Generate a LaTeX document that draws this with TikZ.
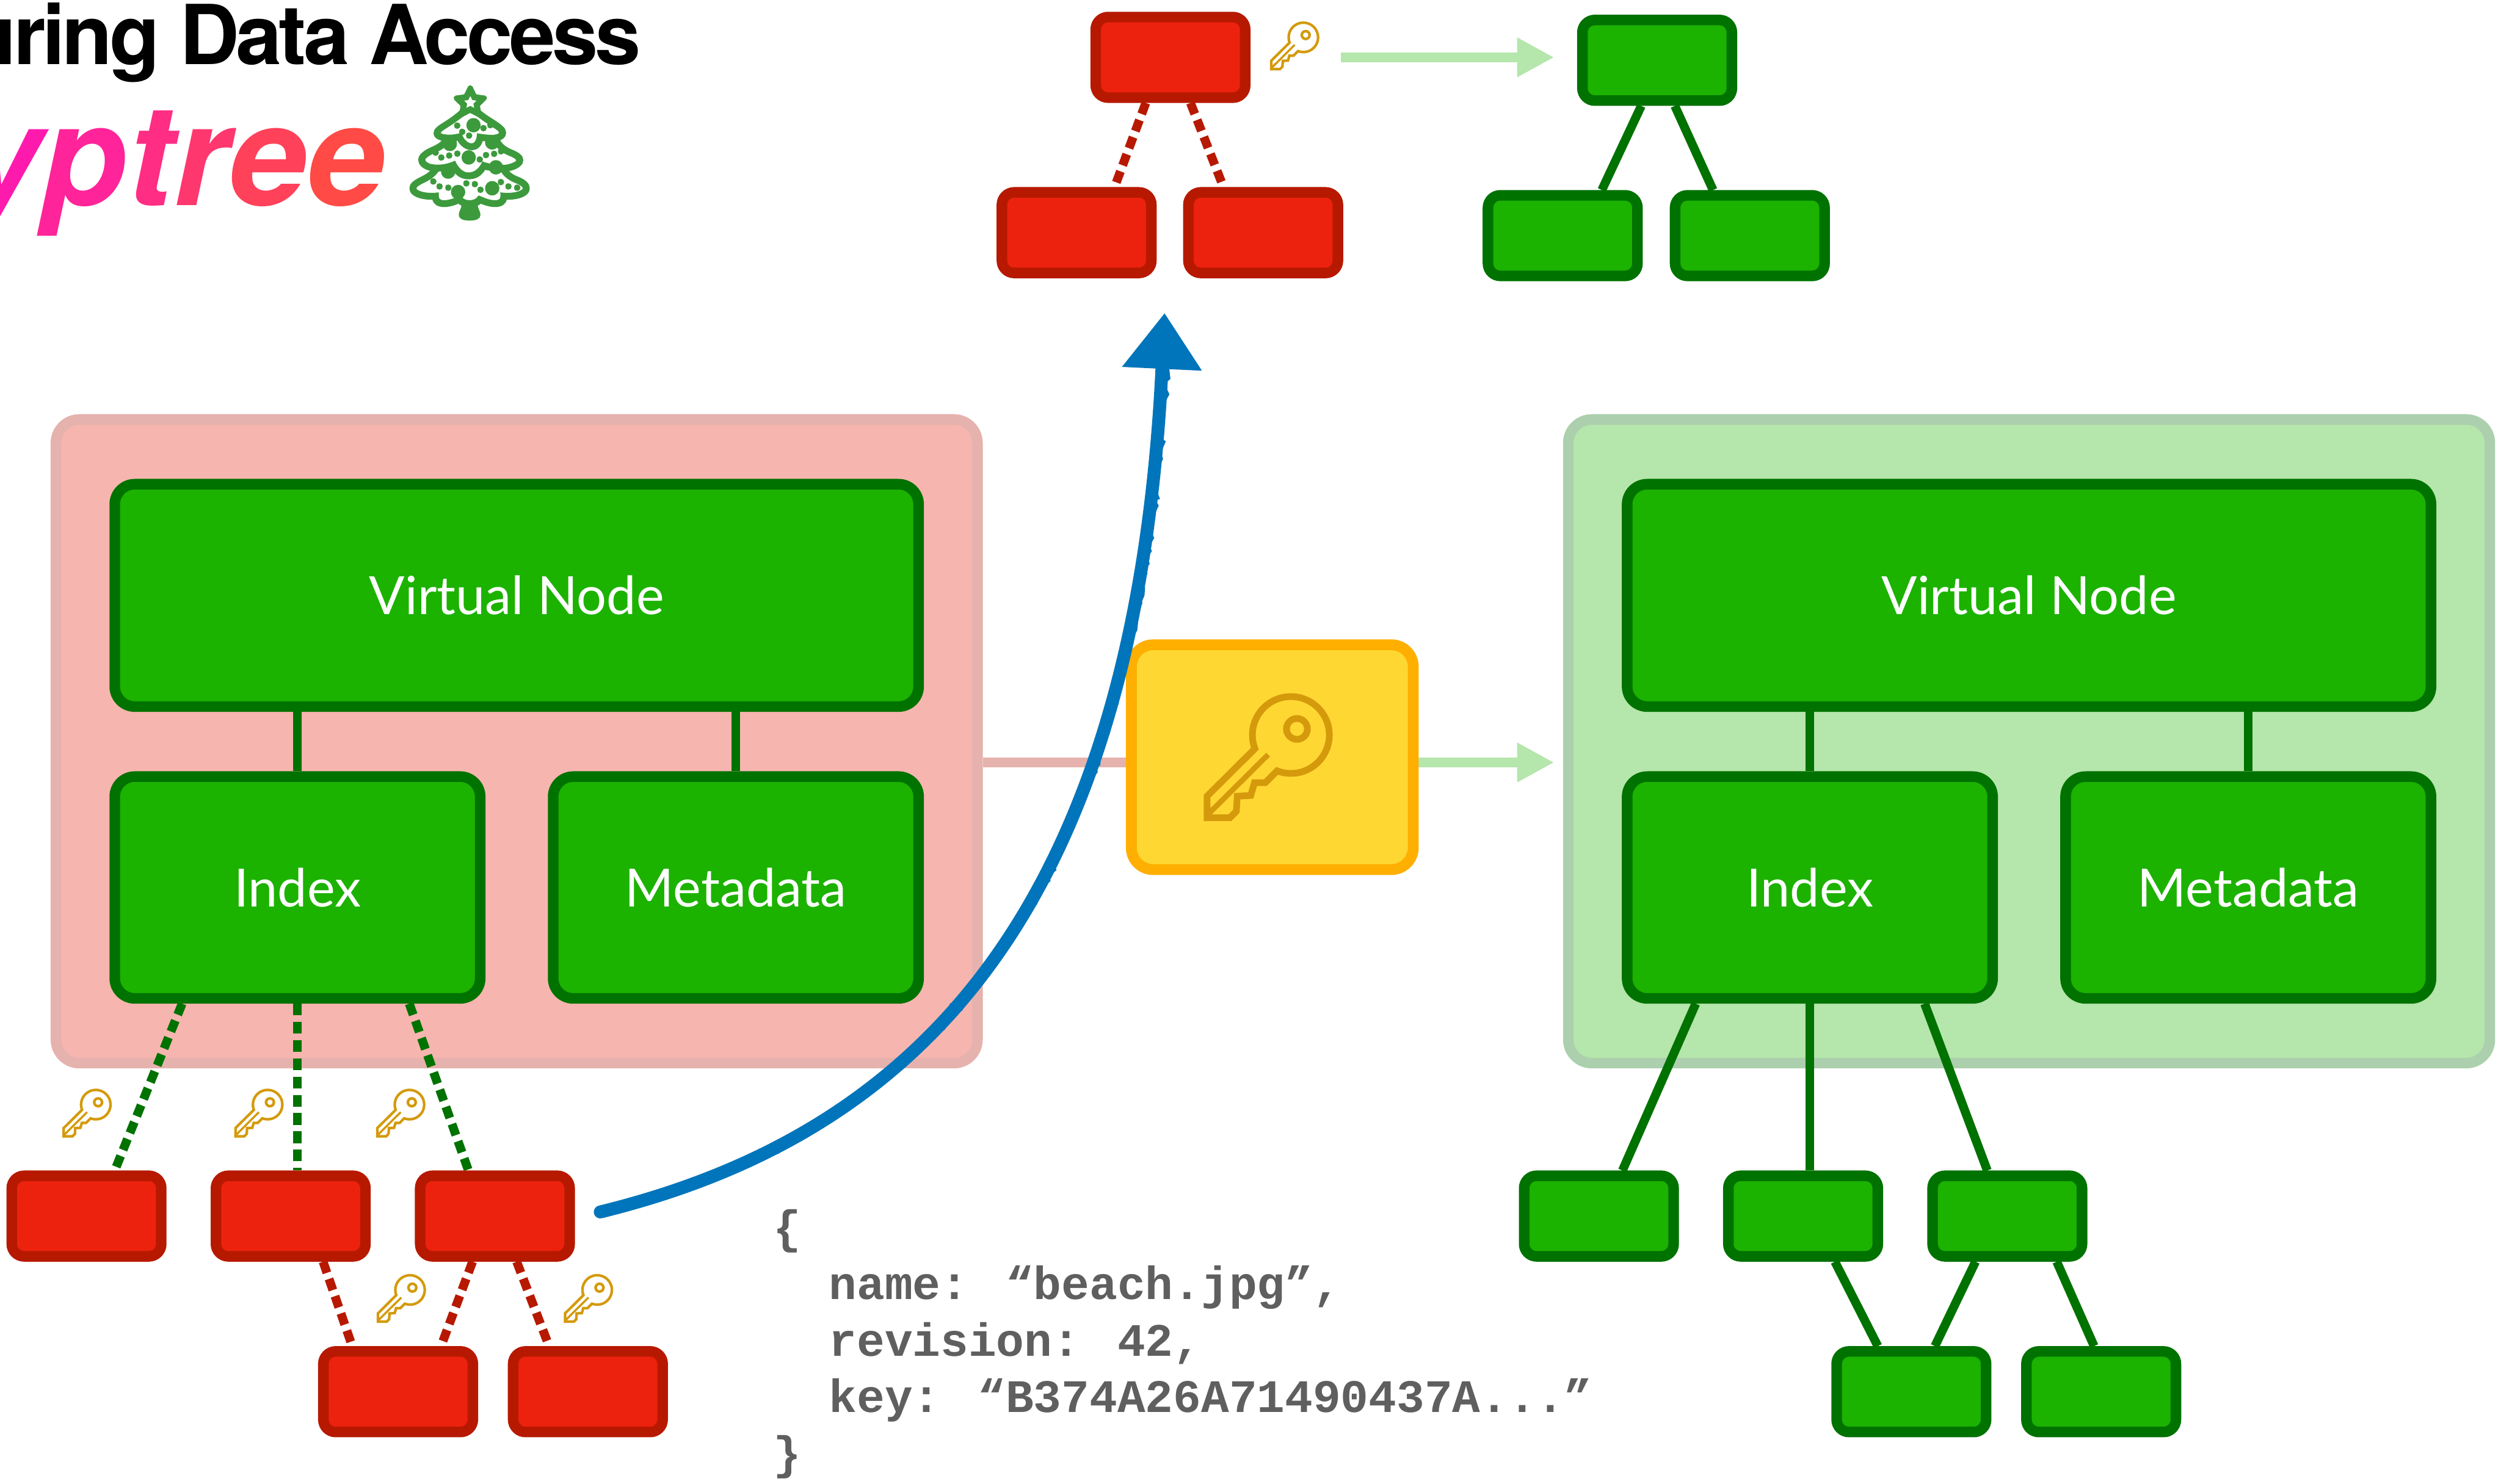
\documentclass[tikz,border=0pt]{standalone}
\usepackage{fontspec}
\setmainfont{Lato}
\newfontfamily\headfont[LetterSpace=-4]{TeX Gyre Heros}
\newfontfamily\codefont{Liberation Mono}
\newfontfamily\emojifont[FakeBold=1.5]{Noto Emoji}
\usetikzlibrary{positioning,arrows.meta,calc,decorations.pathmorphing}

\definecolor{boxred}{HTML}{EC220F}
\definecolor{boxredline}{HTML}{B71900}
\definecolor{boxgreen}{HTML}{1CB200}
\definecolor{boxgreenline}{HTML}{007200}
\definecolor{holderredfill}{HTML}{F7B5AF}
\definecolor{holderredline}{HTML}{E6B2AD}
\definecolor{holdergreenfill}{HTML}{B5E6AB}
\definecolor{holdergreenline}{HTML}{ACD0AD}
\definecolor{tilefill}{HTML}{FFD733}
\definecolor{tileline}{HTML}{FFAF00}
\definecolor{gold}{HTML}{D49A0C}
\definecolor{pencil}{HTML}{0075BB}
\definecolor{codegray}{HTML}{5F5F5F}
\definecolor{treegreen}{HTML}{3C9A3C}
\definecolor{hotpink}{HTML}{FF1AAE}
\definecolor{coral}{HTML}{FF4A45}

\newcommand{\brandletter}[2]{\textcolor{coral!#1!hotpink}{#2}}

\pgfdeclarelayer{holders}
\pgfdeclarelayer{links}
\pgfsetlayers{holders,links,main}

\tikzset{
  holder/.style={rounded corners=4mm,line width=1.8mm,minimum width=15.66cm,minimum height=10.94cm},
  redholder/.style={holder,draw=holderredline,fill=holderredfill},
  greenholder/.style={holder,draw=holdergreenline,fill=holdergreenfill},
  block/.style={draw=boxgreenline,fill=boxgreen,line width=1.8mm,rounded corners=3.4mm,
    text=white,font=\fontsize{25.5}{29}\selectfont,inner sep=0pt},
  vnode/.style={block,minimum width=13.66cm,minimum height=3.78cm},
  halfnode/.style={block,minimum width=6.21cm,minimum height=3.77cm},
  leaf/.style={line width=1.8mm,rounded corners=2.1mm,minimum width=2.54cm,minimum height=1.37cm,inner sep=0pt},
  redleaf/.style={leaf,draw=boxredline,fill=boxred},
  greenleaf/.style={leaf,draw=boxgreenline,fill=boxgreen},
  keytile/.style={draw=tileline,fill=tilefill,line width=1.85mm,rounded corners=3.7mm,
    minimum width=4.79cm,minimum height=3.82cm},
  tie/.style={draw=boxgreenline,line width=1.5mm},
  greendash/.style={tie,dash pattern=on 2mm off 1.1mm},
  reddash/.style={greendash,draw=boxredline},
  keyglyph/.style={text=gold,font=\emojifont\fontsize{23}{23}\selectfont,inner sep=0pt},
  softarrow/.style={draw=holdergreenfill,line width=1.6mm,-{Triangle[length=6.3mm,width=6.3mm]}},
  pencilarrow/.style={draw=pencil,line width=2.2mm,line cap=round,-{Triangle[length=9.5mm,width=13mm]}},
  code/.style={text=codegray,font=\codefont\bfseries\fontsize{22.5}{27.3}\selectfont,align=left,inner sep=0pt}
}

\begin{document}
\begin{tikzpicture}
  \useasboundingbox (0,0) rectangle (42.5,25.22);

  % heading
  \node[anchor=base east,inner sep=0pt,font=\headfont\bfseries\fontsize{40}{40}\selectfont] (title) at (10.90,24.12) {uring Data Access};
  \node[anchor=base east,inner sep=0pt,font=\headfont\bfseries\itshape\fontsize{68}{68}\selectfont] (brand) at (6.55,21.73)
    {\brandletter{0}{y}\brandletter{20}{p}\brandletter{40}{t}\brandletter{60}{r}\brandletter{80}{e}\brandletter{100}{e}};
  \node[text=treegreen,inner sep=0pt,font=\emojifont\fontsize{62}{62}\selectfont] (tree) at (7.98,22.62) {🎄};

  % the two folders
  \begin{pgfonlayer}{holders}
    \node[redholder] (cntL) at (8.78,12.62) {};
    \node[greenholder] (cntR) at (34.48,12.62) {};
  \end{pgfonlayer}

  \node[vnode,below=1.1cm of cntL.north] (vnL) {Virtual Node};
  \node[halfnode,below=1.01cm of vnL.south west,anchor=north west] (idxL) {Index};
  \node[halfnode,below=1.01cm of vnL.south east,anchor=north east] (metaL) {Metadata};

  \node[vnode,below=1.1cm of cntR.north] (vnR) {Virtual Node};
  \node[halfnode,below=1.01cm of vnR.south west,anchor=north west] (idxR) {Index};
  \node[halfnode,below=1.01cm of vnR.south east,anchor=north east] (metaR) {Metadata};

  \node[keytile] (vault) at (21.62,12.35) {};
  \node[keyglyph,font=\emojifont\fontsize{60}{60}\selectfont] (bigkey) at ([xshift=-0.07cm]vault.center) {🔑};

  % encrypted children
  \node[redleaf] (r1) at (1.47,4.55) {};
  \node[redleaf,right=0.75cm of r1] (r2) {};
  \node[redleaf,right=0.75cm of r2] (r3) {};
  \node[redleaf,below=1.435cm of r2,xshift=1.825cm] (r4) {};
  \node[redleaf,right=0.505cm of r4] (r5) {};

  % decrypted children
  \node[greenleaf] (g1) at (27.17,4.55) {};
  \node[greenleaf,right=0.75cm of g1] (g2) {};
  \node[greenleaf,right=0.75cm of g2] (g3) {};
  \node[greenleaf,below=1.435cm of g2,xshift=1.84cm] (g4) {};
  \node[greenleaf,right=0.505cm of g4] (g5) {};

  % small trees at the top
  \node[redleaf] (rt) at (19.89,24.245) {};
  \node[redleaf,below=1.43cm of rt,xshift=-1.595cm] (rb1) {};
  \node[redleaf,right=0.45cm of rb1] (rb2) {};
  \node[greenleaf] (gt) at (28.16,24.195) {};
  \node[greenleaf,below=1.43cm of gt,xshift=-1.605cm] (gb1) {};
  \node[greenleaf,right=0.46cm of gb1] (gb2) {};

  \node[keyglyph] (k0) at (22.00,24.44) {🔑};
  \foreach \name/\x/\y in {k1/1.48/6.30,k2/4.40/6.30,k3/6.81/6.30,k4/6.82/3.15,k5/10.00/3.15}
    \node[keyglyph] (\name) at (\x,\y) {🔑};

  \node[code,anchor=north west] (meta) at (13.13,4.67)
    {\{\\\ \ name: “beach.jpg”,\\\ \ revision: 42,\\\ \ key: “B374A26A71490437A...”\\\}};

  \begin{pgfonlayer}{links}
    \draw[tie] (idxL.north) -- (idxL.north |- vnL.south);
    \draw[tie] (metaL.north) -- (metaL.north |- vnL.south);
    \draw[tie] (idxR.north) -- (idxR.north |- vnR.south);
    \draw[tie] (metaR.north) -- (metaR.north |- vnR.south);

    \draw[greendash] ([xshift=-1.96cm]idxL.south) -- ([xshift=0.48cm]r1.north);
    \draw[greendash] (idxL.south) -- (idxL.south |- r2.north);
    \draw[greendash] ([xshift=1.90cm]idxL.south) -- ([xshift=-0.45cm]r3.north);
    \draw[reddash] ([xshift=0.55cm]r2.south) -- ([xshift=-0.78cm]r4.north);
    \draw[reddash] ([xshift=-0.38cm]r3.south) -- ([xshift=0.73cm]r4.north);
    \draw[reddash] ([xshift=0.37cm]r3.south) -- ([xshift=-0.66cm]r5.north);

    \draw[tie] ([xshift=-1.94cm]idxR.south) -- ([xshift=0.40cm]g1.north);
    \draw[tie] (idxR.south) -- (idxR.south |- g2.north);
    \draw[tie] ([xshift=1.95cm]idxR.south) -- ([xshift=-0.34cm]g3.north);
    \draw[tie] ([xshift=0.54cm]g2.south) -- ([xshift=-0.57cm]g4.north);
    \draw[tie] ([xshift=-0.54cm]g3.south) -- ([xshift=0.40cm]g4.north);
    \draw[tie] ([xshift=0.84cm]g3.south) -- ([xshift=-0.12cm]g5.north);

    \draw[reddash] ([xshift=-0.42cm]rt.south) -- ([xshift=0.645cm]rb1.north);
    \draw[reddash] ([xshift=0.34cm]rt.south) -- ([xshift=-0.675cm]rb2.north);
    \draw[tie] ([xshift=-0.27cm]gt.south) -- ([xshift=0.665cm]gb1.north);
    \draw[tie] ([xshift=0.30cm]gt.south) -- ([xshift=-0.625cm]gb2.north);

    \draw[draw=holderredline,line width=1.6mm] ([yshift=-0.9mm]vault.west) -- ([yshift=-0.9mm]vault.west -| cntL.east);
    \draw[softarrow,shorten >=1.5mm] ([yshift=-0.9mm]vault.east) -- ([yshift=-0.9mm]vault.east -| cntR.west);
    \draw[softarrow,shorten <=1.54cm,shorten >=3.9mm] (rt.east) -- (rt.east -| gt.west);
  \end{pgfonlayer}

  % decryption of one child
  \coordinate (drop) at (19.79,19.90);
  \draw[pencilarrow] ([xshift=4.3mm,yshift=0.7mm]r3.east) .. controls (15.50,5.92) and (19.30,9.62) .. (drop);
  \draw[pencil,line width=1.2mm,decorate,decoration={random steps,segment length=3pt,amplitude=1.4pt}]
    ([xshift=4.3mm,yshift=0.7mm]r3.east) .. controls (15.50,5.92) and (19.30,9.62) .. ([yshift=-9mm]drop);
\end{tikzpicture}
\end{document}
